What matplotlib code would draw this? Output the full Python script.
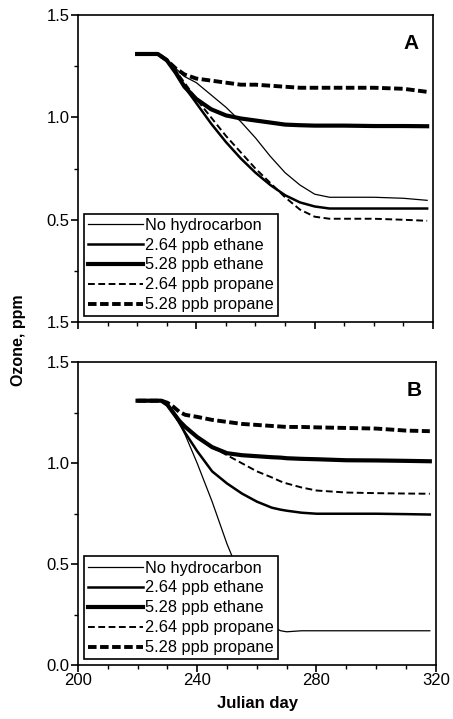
import matplotlib
matplotlib.use('Agg')
import matplotlib.pyplot as plt
from matplotlib.ticker import MultipleLocator

plt.rcParams['font.family'] = ['Liberation Sans', 'DejaVu Sans']

labels = ['No hydrocarbon', '2.64 ppb ethane', '5.28 ppb ethane',
          '2.64 ppb propane', '5.28 ppb propane']

# panel A: julian day vs ozone (ppm)
days_a = [220, 227, 230, 233, 236, 240, 245, 250, 255, 260, 265, 270, 275, 280, 285, 290, 300, 310, 318]
no_hc_a = [1.31, 1.31, 1.28, 1.24, 1.20, 1.17, 1.11, 1.05, 0.98, 0.90, 0.81, 0.73, 0.67, 0.625, 0.61, 0.61, 0.61, 0.605, 0.595]
eth264_a = [1.31, 1.31, 1.28, 1.22, 1.15, 1.07, 0.97, 0.88, 0.80, 0.73, 0.67, 0.62, 0.585, 0.565, 0.555, 0.555, 0.555, 0.555, 0.555]
eth528_a = [1.31, 1.31, 1.28, 1.22, 1.15, 1.09, 1.04, 1.01, 0.995, 0.985, 0.975, 0.965, 0.962, 0.96, 0.96, 0.96, 0.958, 0.958, 0.957]
pro264_a = [1.31, 1.31, 1.28, 1.23, 1.17, 1.09, 1.00, 0.91, 0.83, 0.75, 0.68, 0.61, 0.55, 0.515, 0.505, 0.505, 0.505, 0.50, 0.495]
pro528_a = [1.31, 1.31, 1.28, 1.24, 1.21, 1.19, 1.18, 1.17, 1.16, 1.16, 1.155, 1.15, 1.145, 1.145, 1.145, 1.145, 1.145, 1.14, 1.125]

# panel B
days_b = [220, 228, 230, 232, 234, 236, 240, 245, 250, 255, 260, 265, 268, 270, 275, 280, 290, 300, 310, 318]
no_hc_b = [1.31, 1.31, 1.29, 1.25, 1.20, 1.14, 1.00, 0.81, 0.60, 0.42, 0.28, 0.19, 0.17, 0.165, 0.17, 0.17, 0.17, 0.17, 0.17, 0.17]
eth264_b = [1.31, 1.31, 1.29, 1.25, 1.20, 1.15, 1.06, 0.96, 0.90, 0.85, 0.81, 0.78, 0.77, 0.765, 0.755, 0.75, 0.75, 0.75, 0.748, 0.746]
eth528_b = [1.31, 1.31, 1.29, 1.25, 1.21, 1.18, 1.13, 1.08, 1.05, 1.04, 1.035, 1.03, 1.028, 1.025, 1.022, 1.02, 1.015, 1.014, 1.012, 1.01]
pro264_b = [1.31, 1.31, 1.29, 1.25, 1.21, 1.18, 1.13, 1.08, 1.04, 1.00, 0.96, 0.93, 0.91, 0.90, 0.88, 0.865, 0.855, 0.852, 0.85, 0.849]
pro528_b = [1.31, 1.31, 1.30, 1.28, 1.255, 1.24, 1.23, 1.215, 1.205, 1.195, 1.19, 1.185, 1.182, 1.18, 1.18, 1.178, 1.175, 1.172, 1.162, 1.159]

# tick labels on the left axis (the scan shows 1.5 at the bottom of panel A)
yticks_a = ['1.5', '0.5', '1.0', '1.5']
yticks_b = ['0.0', '0.5', '1.0', '1.5']

styles = [dict(color='black', lw=0.9, ls='-'),
          dict(color='black', lw=1.8, ls='-'),
          dict(color='black', lw=3.0, ls='-'),
          dict(color='black', lw=1.4, ls=(0, (3.5, 1.8))),
          dict(color='black', lw=2.8, ls=(0, (2.2, 0.9)))]

fig = plt.figure(figsize=(4.53, 7.19), dpi=100)
ax_a = fig.add_axes([0.172, 0.552, 0.784, 0.427])
ax_b = fig.add_axes([0.172, 0.075, 0.790, 0.421])


def draw(ax, days, series, yticklabels, letter, show_x):
    for vals, lab, st in zip(series, labels, styles):
        ax.plot(days, vals, label=lab, **st)
    ax.set_xlim(200, 320)
    ax.set_ylim(0, 1.5)
    ax.xaxis.set_major_locator(MultipleLocator(40))
    ax.xaxis.set_minor_locator(MultipleLocator(10))
    ax.yaxis.set_major_locator(MultipleLocator(0.5))
    ax.yaxis.set_minor_locator(MultipleLocator(0.25))
    ax.set_yticks([0, 0.5, 1.0, 1.5])
    ax.set_yticklabels(yticklabels)
    ax.tick_params(which='major', direction='out', length=5, width=1.2, labelsize=12, pad=1)
    ax.tick_params(which='minor', direction='out', length=3, width=1)
    if not show_x:
        ax.set_xticklabels([])
    for sp in ax.spines.values():
        sp.set_linewidth(1.2)
    ax.text(0.96, 0.94, letter, transform=ax.transAxes, ha='right', va='top',
            fontsize=15, fontweight='bold')
    leg = ax.legend(loc='lower left', bbox_to_anchor=(0.0, 0.0), fontsize=11.8,
                    handlelength=3.4, handletextpad=0.1, labelspacing=0.3,
                    borderpad=0.25, borderaxespad=0.35, fancybox=False,
                    framealpha=1, edgecolor='black')
    leg.get_frame().set_linewidth(1.2)
    leg.set_zorder(5)


draw(ax_a, days_a, [no_hc_a, eth264_a, eth528_a, pro264_a, pro528_a], yticks_a, 'A', False)
draw(ax_b, days_b, [no_hc_b, eth264_b, eth528_b, pro264_b, pro528_b], yticks_b, 'B', True)

fig.text(0.04, 0.527, 'Ozone, ppm', rotation=90, ha='center', va='center',
         fontsize=11.5, fontweight='bold')
fig.text(0.568, 0.022, 'Julian day', ha='center', va='center',
         fontsize=12, fontweight='bold')

fig.savefig('out.png', dpi=100)
